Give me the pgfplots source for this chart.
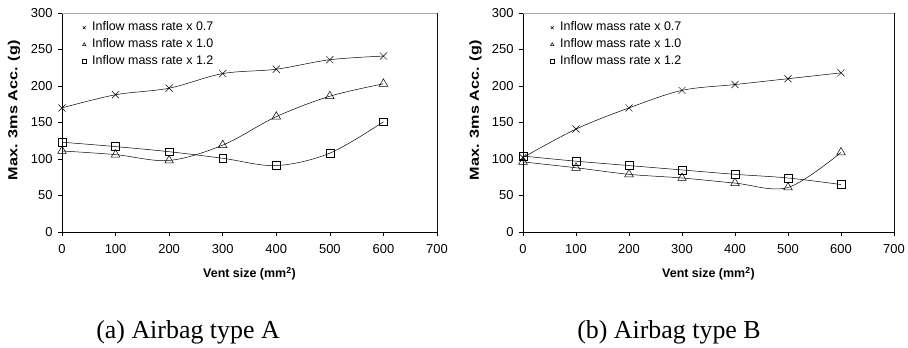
\documentclass[border=0pt]{standalone}
\usepackage{fontspec}
\setmainfont{Liberation Sans}
\newfontfamily\capfont{Liberation Serif}
\usepackage{graphicx}
\usepackage{pgfplots}
\pgfplotsset{compat=1.18}

\pgfplotsset{
 mystyle/.style={
  scale only axis, height=219bp,
  xmin=0,xmax=700,ymin=0,ymax=300,
  xtick={0,100,...,700}, ytick={0,50,...,300},
  tick align=outside, xtick pos=bottom, ytick pos=left,
  major tick length=4bp,
  tick style={black, line width=0.6pt},
  axis line style={line width=0.6pt},
  ticklabel style={font=\fontsize{13}{15}\selectfont},
  xticklabel style={yshift=-5bp},
  yticklabel style={xshift=-2bp},
  /pgf/number format/assume math mode=true,
  xlabel={\textbf{Vent size (mm\textsuperscript{2})}},
  ylabel={\rotatebox{90}{\scalebox{1.3}[1.05]{\textbf{Max. 3ms Acc. (g)}}}},
  xlabel style={font=\fontsize{12.5}{14}\selectfont, at={(axis description cs:0.5,-0.19)}, anchor=center},
  ylabel style={font=\fontsize{12.5}{14}\selectfont, at={(axis description cs:-0.128,0.555)}, anchor=center, rotate=-90},
  legend style={draw=none, fill=none, at={(axis description cs:0,1)}, anchor=north west,
    yshift=-8.5bp,
    font=\fontsize{12.5}{14}\selectfont, row sep=5bp, inner sep=0pt,
    nodes={inner sep=0pt, text height=9bp, text depth=3bp}},
  legend cell align=left,
  legend image code/.code={\path[draw=none, fill=none] (-2bp,0bp) -- (8bp,0bp); \draw[#1, mark size=2bp] plot[only marks] coordinates {(0bp,0bp)};},
  every axis plot/.append style={black, line width=0.5pt, smooth, tension=0.55, mark options={solid, fill=white}},
 }
}

\begin{document}
\begin{tikzpicture}[x=1bp,y=1bp]
\path[use as bounding box] (0,0) rectangle (908,347);

\begin{axis}[mystyle, width=375bp, at={(62bp,115bp)}, anchor=south west,
  legend style={xshift=20bp}]
\draw[gray!70, line width=0.6pt] (rel axis cs:0,1) -- (rel axis cs:1,1) -- (rel axis cs:1,0);
\addplot[mark=x, mark size=5bp] coordinates {(0,170) (100,188) (200,197) (300,217) (400,223) (500,236) (600,241)};
\addlegendentry{Inflow mass rate x 0.7}
\addplot[mark=triangle, mark size=5bp] coordinates {(0,111) (100,106) (200,98) (300,119) (400,158) (500,186) (600,203)};
\addlegendentry{Inflow mass rate x 1.0}
\addplot[mark=square, mark size=3.9bp] coordinates {(0,123) (100,117) (200,110) (300,101) (400,91) (500,108) (600,151)};
\addlegendentry{Inflow mass rate x 1.2}
\end{axis}

\begin{axis}[mystyle, width=371bp, at={(523bp,115bp)}, anchor=south west,
  legend style={xshift=27bp}]
\draw[gray!70, line width=0.6pt] (rel axis cs:0,1) -- (rel axis cs:1,1) -- (rel axis cs:1,0);
\addplot[mark=x, mark size=5bp] coordinates {(0,102) (100,141) (200,170) (300,194) (400,202) (500,210) (600,218)};
\addlegendentry{Inflow mass rate x 0.7}
\addplot[mark=triangle, mark size=5bp] coordinates {(0,96) (100,88) (200,79) (300,74) (400,67) (500,61) (600,109)};
\addlegendentry{Inflow mass rate x 1.0}
\addplot[mark=square, mark size=3.9bp] coordinates {(0,104) (100,97) (200,91) (300,85) (400,79) (500,74) (600,65)};
\addlegendentry{Inflow mass rate x 1.2}
\end{axis}

\node[anchor=base, font=\capfont\fontsize{26}{28}\selectfont] at (188,9) {(a) Airbag type A};
\node[anchor=base, font=\capfont\fontsize{26}{28}\selectfont] at (669,9) {(b) Airbag type B};
\end{tikzpicture}
\end{document}
